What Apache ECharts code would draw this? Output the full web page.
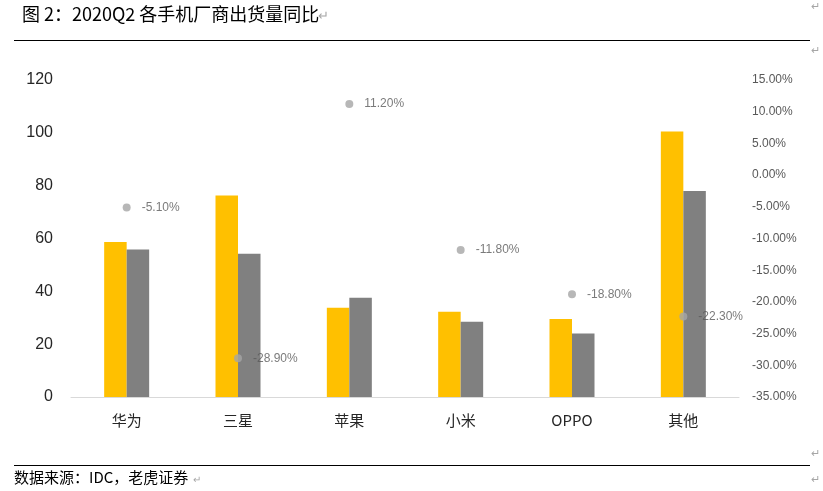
<!DOCTYPE html>
<html>
<head>
<meta charset="utf-8">
<script src="https://cdn.jsdelivr.net/npm/echarts@6/dist/echarts.min.js"></script>
<style>
html,body{margin:0;padding:0;background:#fff;}
#c{width:823px;height:491px;}
</style>
</head>
<body>
<div id="c"></div>
<script>
const categories = ['华为', '三星', '苹果', '小米', 'OPPO', '其他'];
const shipments2019Q2 = [58.7, 76.3, 33.8, 32.3, 29.5, 100.5];
const shipments2020Q2 = [55.8, 54.2, 37.6, 28.5, 24.0, 78.0];
const yoyGrowth = [-5.1, -28.9, 11.2, -11.8, -18.8, -22.3];
const titleText = '图 2：2020Q2 各手机厂商出货量同比';
const sourceText = '数据来源：IDC，老虎证券';

const cjk = '"Noto Sans CJK SC", "Liberation Sans", sans-serif';
const chart = echarts.init(document.getElementById('c'), null, {renderer: 'canvas'});
const mark = (x, y) => ({type: 'text', left: x, top: y, style: {text: '↵', fill: '#a6a6a6', font: '11px ' + cjk}});
chart.setOption({
  animation: false,
  backgroundColor: '#fff',
  graphic: [
    {type: 'text', left: 22, top: 5, style: {text: titleText, fill: '#000', font: '18px ' + cjk}},
    {type: 'text', left: 318, top: 9, style: {text: '↵', fill: '#a6a6a6', font: '13px ' + cjk}},
    {type: 'line', shape: {x1: 14, y1: 40.5, x2: 810, y2: 40.5}, style: {stroke: '#000', lineWidth: 1}},
    {type: 'line', shape: {x1: 14, y1: 465.5, x2: 810, y2: 465.5}, style: {stroke: '#000', lineWidth: 1}},
    {type: 'text', left: 14, top: 470, style: {text: sourceText, fill: '#000', font: '15px ' + cjk}},
    {type: 'text', left: 193, top: 474, style: {text: '↵', fill: '#a6a6a6', font: '10px ' + cjk}},
    mark(811, 0), mark(811, 44), mark(811, 447), mark(811, 473)
  ],
  grid: {left: 71, right: 84, top: 80, bottom: 94, containLabel: false},
  xAxis: {
    type: 'category',
    data: categories,
    axisLine: {lineStyle: {color: '#d9d9d9', width: 1}},
    axisTick: {show: false},
    axisLabel: {color: '#262626', fontSize: 15, fontFamily: cjk, margin: 16}
  },
  yAxis: [
    {
      type: 'value', min: 0, max: 120, interval: 20,
      splitLine: {show: false}, axisLine: {show: false}, axisTick: {show: false},
      axisLabel: {color: '#262626', fontSize: 16, fontFamily: '"Liberation Sans", Arial, sans-serif', margin: 18}
    },
    {
      type: 'value', min: -35, max: 15, interval: 5,
      splitLine: {show: false}, axisLine: {show: false}, axisTick: {show: false},
      axisLabel: {color: '#595959', fontSize: 12, fontFamily: '"Liberation Sans", Arial, sans-serif', margin: 13,
        formatter: v => v.toFixed(2) + '%'}
    }
  ],
  series: [
    {name: '2019Q2', type: 'bar', data: shipments2019Q2, barWidth: 22.5, barGap: '0%',
      itemStyle: {color: '#ffc000'}, yAxisIndex: 0},
    {name: '2020Q2', type: 'bar', data: shipments2020Q2, barWidth: 22.5, barGap: '0%',
      itemStyle: {color: '#808080'}, yAxisIndex: 0},
    {name: '同比', type: 'scatter', data: yoyGrowth, yAxisIndex: 1, symbolSize: 8, z: 5,
      itemStyle: {color: '#a5a5a5'},
      label: {show: true, position: 'right', distance: 11, color: '#595959', fontSize: 12,
        fontFamily: '"Liberation Sans", Arial, sans-serif',
        formatter: p => p.value.toFixed(2) + '%'}}
  ]
});
</script>
</body>
</html>
